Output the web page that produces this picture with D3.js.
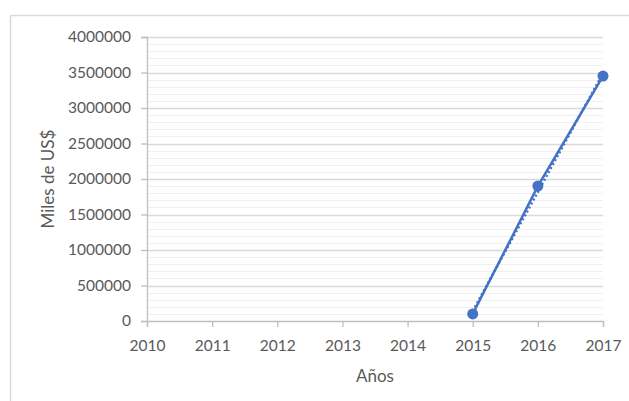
<!DOCTYPE html>
<html>
<head>
<meta charset="utf-8">
<script src="https://cdn.jsdelivr.net/npm/d3@7"></script>
<style>
  body { margin: 0; background: #fff; }
  svg { display: block; font-family: Lato, "Open Sans", sans-serif; }
</style>
</head>
<body>
<svg id="chart" width="629" height="401"></svg>
<script>
// data
const years = [2015, 2016, 2017];
const values = [100000, 1900000, 3450000];
const xTicks = [2010, 2011, 2012, 2013, 2014, 2015, 2016, 2017];
const yTicks = [0, 500000, 1000000, 1500000, 2000000, 2500000, 3000000, 3500000, 4000000];

const svg = d3.select('#chart');
const margin = {top: 37, right: 26, bottom: 80, left: 147};
const width = 629, height = 401;

// outer frame
svg.append('rect')
    .attr('x', 10.5).attr('y', 15.5)
    .attr('width', 640).attr('height', 400)
    .attr('fill', 'none')
    .attr('stroke', '#d9d9d9')
    .attr('stroke-width', 1.5);

const x = d3.scaleLinear().domain([2010, 2017]).range([margin.left, width - margin.right]);
const y = d3.scaleLinear().domain([0, 4000000]).range([height - margin.bottom, margin.top]);

// minor grid
const minor = d3.range(0, 4000001, 100000).filter(v => v % 500000 !== 0);
svg.append('g').selectAll('line')
    .data(minor).enter().append('line')
    .attr('x1', x(2010)).attr('x2', x(2017))
    .attr('y1', d => Math.round(y(d)) + 0.5).attr('y2', d => Math.round(y(d)) + 0.5)
    .attr('stroke', '#f0f0f0').attr('stroke-width', 1);

// major grid
svg.append('g').selectAll('line')
    .data(yTicks.filter(v => v > 0)).enter().append('line')
    .attr('x1', x(2010)).attr('x2', x(2017))
    .attr('y1', d => Math.round(y(d)) + 0.5).attr('y2', d => Math.round(y(d)) + 0.5)
    .attr('stroke', '#d9d9d9').attr('stroke-width', 1.3);

// y axis
const yAxis = svg.append('g')
    .attr('transform', `translate(${x(2010)},0)`)
    .call(d3.axisLeft(y).tickValues(yTicks).tickSize(6).tickPadding(10).tickFormat(d3.format('d')));

// x axis
const xAxis = svg.append('g')
    .attr('transform', `translate(0,${y(0)})`)
    .call(d3.axisBottom(x).tickValues(xTicks).tickSize(6).tickPadding(13).tickFormat(d3.format('d')));

[yAxis, xAxis].forEach(a => {
    a.attr('font-family', null).attr('font-size', null);
    a.select('.domain').attr('stroke', '#bfbfbf').attr('stroke-width', 1.3);
    a.selectAll('.tick line').attr('stroke', '#bfbfbf').attr('stroke-width', 1.3);
    a.selectAll('.tick text').attr('fill', '#595959').attr('font-size', 15.5);
});

// linear trendline (least squares from the series)
const n = years.length;
const mx = d3.mean(years), my = d3.mean(values);
const slope = d3.sum(years.map((t, i) => (t - mx) * (values[i] - my))) / d3.sum(years.map(t => (t - mx) * (t - mx)));
const trend = [years[0], years[n - 1]].map(t => ({t: t, v: my + slope * (t - mx)}));

const line = d3.line().x(d => x(d.t)).y(d => y(d.v));

svg.append('path')
    .datum(trend)
    .attr('d', line)
    .attr('fill', 'none')
    .attr('stroke', '#4472c4')
    .attr('stroke-width', 2.5)
    .attr('stroke-dasharray', '2,2.5');

// series line
const pts = years.map((t, i) => ({t: t, v: values[i]}));
svg.append('path')
    .datum(pts)
    .attr('d', line)
    .attr('fill', 'none')
    .attr('stroke', '#4472c4')
    .attr('stroke-width', 2.5);

svg.append('g').selectAll('circle')
    .data(pts).enter().append('circle')
    .attr('cx', d => x(d.t)).attr('cy', d => y(d.v))
    .attr('r', 5.5)
    .attr('fill', '#4472c4');

// axis titles
svg.append('text')
    .attr('x', (x(2010) + x(2017)) / 2).attr('y', 382)
    .attr('text-anchor', 'middle')
    .attr('font-size', 17).attr('fill', '#595959')
    .text('Años');

svg.append('text')
    .attr('transform', `translate(54,${(y(0) + y(4000000)) / 2}) rotate(-90)`)
    .attr('text-anchor', 'middle')
    .attr('font-size', 17).attr('fill', '#595959')
    .text('Miles de US$');
</script>
</body>
</html>
